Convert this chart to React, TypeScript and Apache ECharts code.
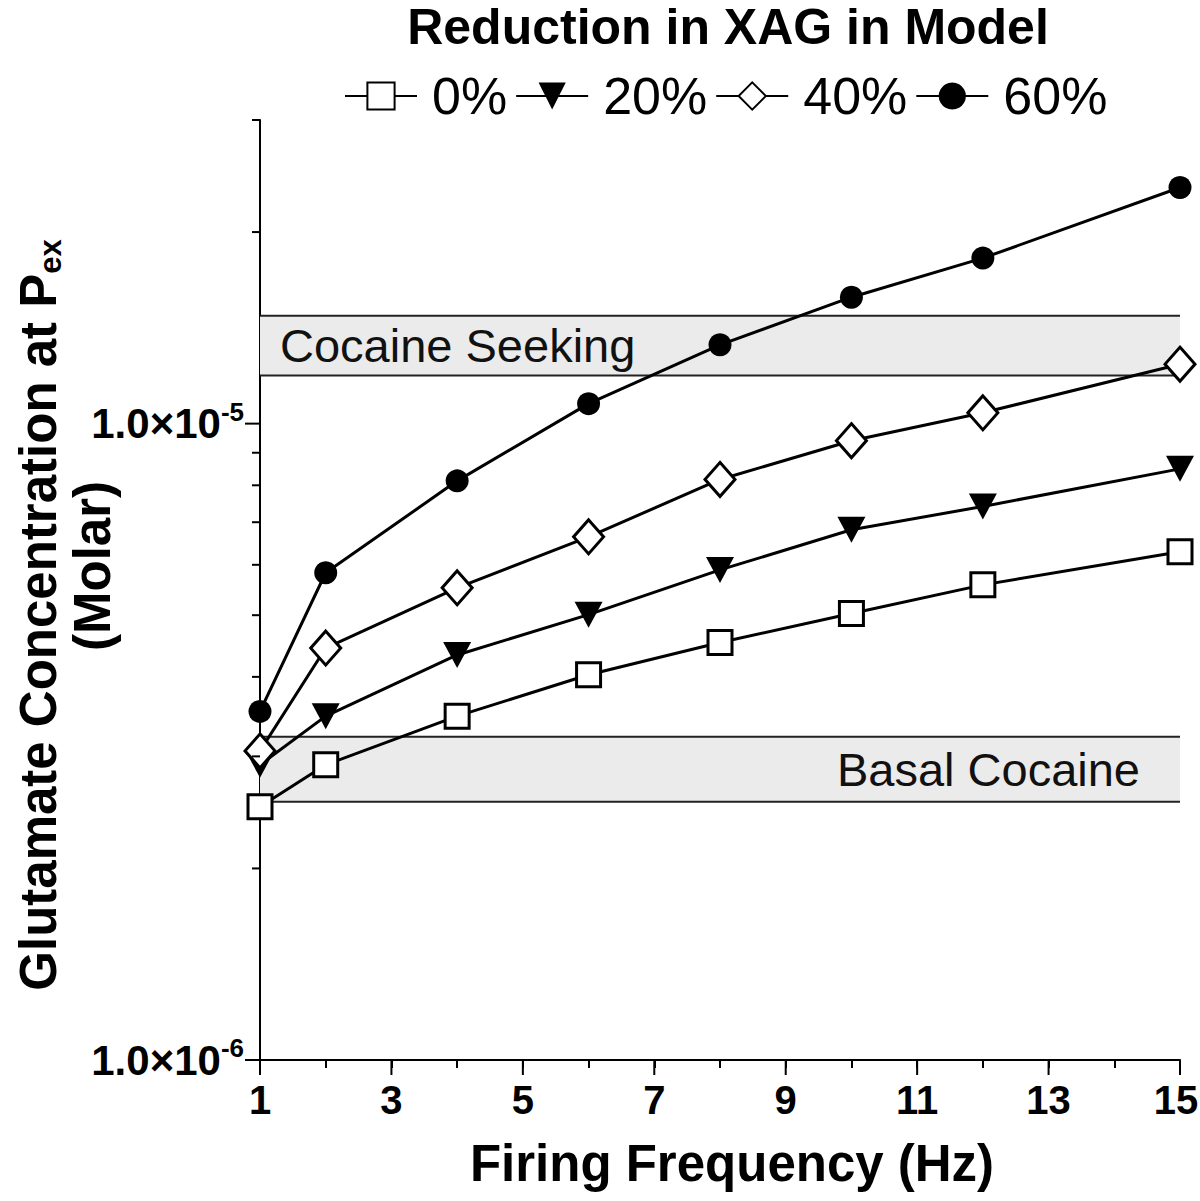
import React, { useEffect, useRef } from 'react';
import * as echarts from 'echarts';

const freqHz = [1, 2, 4, 6, 8, 10, 12, 15];
const seriesNames = ['0%', '20%', '40%', '60%'];
const glu0 = [2.5e-6, 2.91e-6, 3.47e-6, 4.03e-6, 4.53e-6, 5.03e-6, 5.58e-6, 6.29e-6];
const glu20 = [2.91e-6, 3.47e-6, 4.33e-6, 5.01e-6, 5.89e-6, 6.81e-6, 7.41e-6, 8.49e-6];
const glu40 = [3.06e-6, 4.44e-6, 5.52e-6, 6.64e-6, 8.17e-6, 9.4e-6, 1.04e-5, 1.24e-5];
const glu60 = [3.53e-6, 5.83e-6, 8.13e-6, 1.075e-5, 1.33e-5, 1.58e-5, 1.82e-5, 2.35e-5];
const cocaineSeekingBand = [1.19e-5, 1.478e-5];
const basalCocaineBand = [2.546e-6, 3.22e-6];
const xMajorTicks = [1, 3, 5, 7, 9, 11, 13, 15];
const yMajorTicks = [1e-6, 1e-5];
const yMinorTicks = [2e-6, 3e-6, 4e-6, 5e-6, 6e-6, 7e-6, 8e-6, 9e-6, 2e-5, 3e-5];
const xMin = 1;
const xMax = 15;
const yMin = 1e-6;
const yMax = 3e-5;

const FONT = '"Liberation Sans", Arial, sans-serif';

export default function App() {
  const ref = useRef<HTMLDivElement>(null);
  useEffect(() => {
    if (!ref.current) return;
    const chart = echarts.init(ref.current, undefined, { renderer: 'svg' });
    const seriesValues = [glu0, glu20, glu40, glu60];
    const symbols = ['rect', 'triangle', 'diamond', 'circle'];
    const symbolSizes: any[] = [24, [28, 26], [30, 34], 23];
    const rotations = [0, 180, 0, 0];
    const fills = ['#fff', '#000', '#fff', '#000'];

    const tickData: any[] = [];
    xMajorTicks.forEach((v) => tickData.push([v, yMin, 15, 0]));
    yMajorTicks.forEach((v) => tickData.push([xMin, v, 15, 1]));
    yMinorTicks.forEach((v) => tickData.push([xMin, v, 8, 1]));

    const bandEdges = [...cocaineSeekingBand, ...basalCocaineBand].map((v) => [xMin, v, xMax]);

    const lineSeries: any[] = seriesNames.map((name, i) => {
      const s: any = {
        name,
        type: 'line',
        data: freqHz.map((f, j) => [f, seriesValues[i][j]]),
        symbol: symbols[i],
        symbolSize: symbolSizes[i],
        symbolRotate: rotations[i],
        showSymbol: true,
        lineStyle: { color: '#000', width: 3 },
        itemStyle: { color: fills[i], borderColor: '#000', borderWidth: fills[i] === '#fff' ? 3 : 0 },
        z: 5 + i,
      };
      if (i === 0) {
        s.markArea = {
          silent: true,
          itemStyle: { color: '#ebebeb' },
          data: [
            [
              {
                yAxis: cocaineSeekingBand[0],
                name: 'Cocaine Seeking',
                label: { show: true, position: 'insideLeft', distance: 20, fontSize: 47, fontFamily: FONT, color: '#111' },
              },
              { yAxis: cocaineSeekingBand[1] },
            ],
            [
              {
                yAxis: basalCocaineBand[0],
                name: 'Basal Cocaine',
                label: { show: true, position: 'insideRight', distance: 40, fontSize: 47, fontFamily: FONT, color: '#111' },
              },
              { yAxis: basalCocaineBand[1] },
            ],
          ],
        };
      }
      return s;
    });

    const option: any = {
      animation: false,
      backgroundColor: '#fff',
      grid: { left: 260, right: 20, top: 120, bottom: 141, containLabel: false, outerBoundsMode: 'none' },
      legend: {
        data: seriesNames,
        left: 344,
        top: 70,
        padding: 0,
        itemWidth: 72,
        itemHeight: 34,
        itemGap: 8,
        textStyle: { fontSize: 52, fontFamily: FONT, color: '#000', padding: [0, 0, 0, 10] },
      },
      xAxis: {
        type: 'value',
        min: xMin,
        max: xMax,
        interval: 1,
        splitLine: { show: false },
        axisLine: { show: true, lineStyle: { color: '#000', width: 2 } },
        axisTick: { show: true, length: 8, lineStyle: { color: '#000', width: 2 } },
        axisLabel: {
          formatter: (v: number) => {
            if (v % 2 !== 1) return '';
            return v === xMax ? `{r|${v}}` : String(v);
          },
          fontSize: 40,
          fontWeight: 'bold',
          fontFamily: FONT,
          color: '#000',
          margin: 20,
          rich: {
            r: { fontSize: 40, fontWeight: 'bold', fontFamily: FONT, color: '#000', padding: [0, 8, 0, 0] },
          },
        },
      },
      yAxis: {
        type: 'log',
        logBase: 10,
        min: yMin,
        max: yMax,
        splitLine: { show: false },
        axisLine: { show: true, lineStyle: { color: '#000', width: 2 } },
        axisTick: { show: false },
        axisLabel: {
          margin: 16,
          formatter: (v: number) => {
            const e = Math.round(Math.log10(v));
            if (Math.abs(v - Math.pow(10, e)) / v > 1e-6) return '';
            return `{a|1.0×10}{b|${e}}`;
          },
          rich: {
            a: { fontSize: 42, fontWeight: 'bold', fontFamily: FONT, color: '#000', lineHeight: 50 },
            b: { fontSize: 26, fontWeight: 'bold', fontFamily: FONT, color: '#000', lineHeight: 26, verticalAlign: 'top' },
          },
        },
      },
      graphic: [
        {
          type: 'text',
          x: 728,
          y: 27,
          style: { text: 'Reduction in XAG in Model', font: `bold 50px ${FONT}`, fill: '#000', textAlign: 'center', textVerticalAlign: 'middle' },
        },
        {
          type: 'text',
          x: 732,
          y: 1163,
          style: { text: 'Firing Frequency (Hz)', font: `bold 51px ${FONT}`, fill: '#000', textAlign: 'center', textVerticalAlign: 'middle' },
        },
        {
          type: 'text',
          x: 38,
          y: 615,
          rotation: Math.PI / 2,
          style: {
            text: '{m|Glutamate Concentration at P}{s|ex}',
            textAlign: 'center',
            textVerticalAlign: 'middle',
            fill: '#000',
            rich: {
              m: { font: `bold 51px ${FONT}`, lineHeight: 56, fill: '#000' },
              s: { font: `bold 31px ${FONT}`, lineHeight: 31, verticalAlign: 'bottom', fill: '#000' },
            },
          },
        },
        {
          type: 'text',
          x: 92,
          y: 566,
          rotation: Math.PI / 2,
          style: { text: '(Molar)', font: `bold 51px ${FONT}`, fill: '#000', textAlign: 'center', textVerticalAlign: 'middle' },
        },
      ],
      series: [
        ...lineSeries,
        {
          type: 'custom',
          silent: true,
          clip: false,
          z: 3,
          data: bandEdges,
          renderItem: (params: any, api: any) => {
            const a = api.coord([api.value(0), api.value(1)]);
            const b = api.coord([api.value(2), api.value(1)]);
            return { type: 'line', shape: { x1: a[0], y1: a[1], x2: b[0], y2: b[1] }, style: { stroke: '#222', lineWidth: 2 } };
          },
        },
        {
          type: 'custom',
          silent: true,
          clip: false,
          z: 20,
          data: tickData,
          renderItem: (params: any, api: any) => {
            const x = api.value(0);
            const y = api.value(1);
            const len = api.value(2);
            const kind = api.value(3);
            const p = api.coord([x, y]);
            const shape = kind === 0
              ? { x1: p[0], y1: p[1], x2: p[0], y2: p[1] + len }
              : { x1: p[0] - len, y1: p[1], x2: p[0], y2: p[1] };
            return { type: 'line', shape, style: { stroke: '#000', lineWidth: 2 } };
          },
        },
      ],
    };
    chart.setOption(option);
    return () => chart.dispose();
  }, []);
  return <div ref={ref} style={{ position: 'fixed', left: 0, top: 0, width: 1200, height: 1201, background: '#fff' }} />;
}
